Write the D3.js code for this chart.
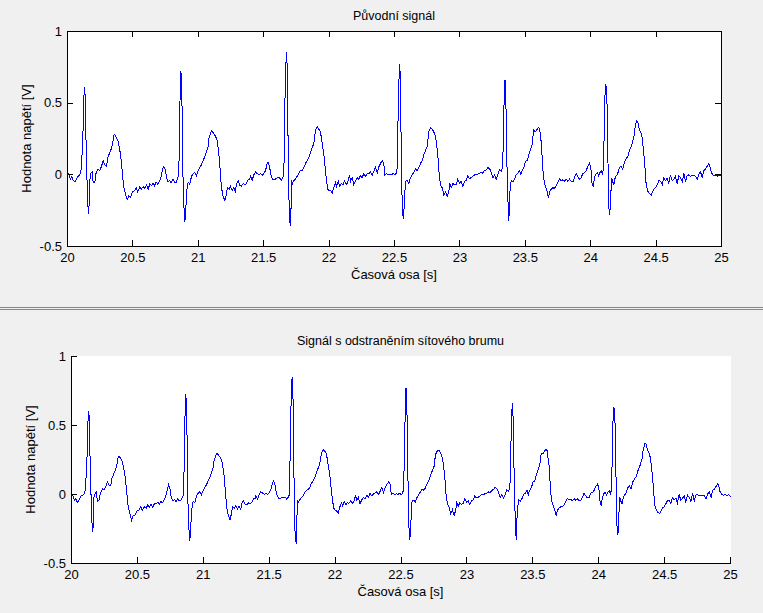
<!DOCTYPE html>
<html>
<head>
<meta charset="utf-8">
<script src="https://cdn.jsdelivr.net/npm/d3@7"></script>
<style>
  body { margin: 0; background: #f0f0f0; }
  svg { display: block; }
  text { font-family: "Liberation Sans", Arial, sans-serif; fill: #000; }
</style>
</head>
<body>
<svg id="chart" width="763" height="613"></svg>
<script>
// tick values and labels
const xTicks = [20, 20.5, 21, 21.5, 22, 22.5, 23, 23.5, 24, 24.5, 25];
const xTickLabels = ['20', '20.5', '21', '21.5', '22', '22.5', '23', '23.5', '24', '24.5', '25'];
const yTicks = [-0.5, 0, 0.5, 1];
const yTickLabels = ['-0.5', '0', '0.5', '1'];
const titles = ['Původní signál', 'Signál s odstraněním sítového brumu'];
const xLabel = 'Časová osa [s]';
const yLabel = 'Hodnota napětí [V]';

// [time s, voltage V]
const originalSignal = [
  [20.000,0.02],[20.011,0.00],[20.023,-0.03],[20.033,-0.01],[20.044,-0.04],[20.056,-0.05],[20.074,-0.02],[20.092,0.00],
  [20.102,0.02],[20.109,0.10],[20.117,0.24],[20.121,0.40],[20.126,0.55],[20.130,0.61],[20.135,0.55],[20.140,0.30],
  [20.148,0.00],[20.155,-0.20],[20.161,-0.27],[20.166,-0.20],[20.170,-0.04],[20.181,0.016],[20.189,0.02],[20.196,-0.05],
  [20.209,-0.05],[20.219,0.016],[20.235,0.04],[20.247,0.03],[20.260,0.06],[20.273,0.10],[20.283,0.07],[20.298,0.06],
  [20.308,0.12],[20.321,0.15],[20.334,0.18],[20.344,0.21],[20.352,0.26],[20.357,0.285],[20.367,0.27],[20.380,0.25],
  [20.385,0.24],[20.405,0.146],[20.418,0.028],[20.430,-0.088],[20.443,-0.13],[20.456,-0.175],[20.469,-0.145],[20.482,-0.155],
  [20.497,-0.12],[20.512,-0.11],[20.525,-0.09],[20.537,-0.12],[20.553,-0.085],[20.566,-0.10],[20.579,-0.08],[20.591,-0.095],
  [20.604,-0.07],[20.617,-0.10],[20.629,-0.065],[20.642,-0.075],[20.655,-0.06],[20.665,-0.075],[20.678,-0.05],[20.690,-0.065],
  [20.703,-0.045],[20.716,-0.01],[20.726,0.035],[20.736,0.058],[20.747,0.04],[20.757,-0.02],[20.770,-0.05],[20.782,-0.04],
  [20.793,-0.055],[20.805,-0.03],[20.818,-0.05],[20.831,-0.05],[20.843,-0.02],[20.851,0.00],
  [20.855,0.24],[20.859,0.45],[20.862,0.61],[20.866,0.727],[20.872,0.67],[20.877,0.40],[20.881,0.10],[20.885,-0.12],
  [20.892,-0.26],[20.897,-0.33],[20.904,-0.26],[20.910,-0.12],[20.923,-0.05],[20.935,-0.065],[20.948,-0.01],[20.961,0.01],
  [20.973,0.015],[20.986,-0.005],[20.999,0.03],[21.011,0.05],[21.024,0.07],[21.037,0.10],[21.050,0.128],[21.063,0.16],
  [21.076,0.20],[21.080,0.25],[21.093,0.29],[21.103,0.307],[21.116,0.29],[21.131,0.27],[21.144,0.24],[21.157,0.147],
  [21.170,0.00],[21.177,-0.09],[21.190,-0.15],[21.203,-0.18],[21.213,-0.14],[21.223,-0.09],[21.236,-0.10],[21.246,-0.08],
  [21.259,-0.11],[21.271,-0.09],[21.284,-0.115],[21.292,-0.065],[21.305,-0.04],[21.317,-0.075],[21.330,-0.08],[21.343,-0.06],
  [21.356,-0.07],[21.369,-0.06],[21.382,-0.03],[21.394,-0.03],[21.399,-0.01],[21.412,-0.04],[21.424,0.00],[21.437,0.02],
  [21.450,0.01],[21.463,0.00],[21.476,0.01],[21.489,-0.005],[21.501,0.01],[21.514,0.03],[21.527,0.08],[21.534,0.087],
  [21.544,0.06],[21.557,-0.01],[21.570,-0.03],[21.583,-0.035],[21.603,-0.02],[21.621,-0.02],[21.634,-0.04],[21.644,-0.02],
  [21.654,0.00],
  [21.659,0.30],[21.664,0.60],[21.671,0.80],[21.674,0.86],[21.680,0.75],[21.684,0.40],[21.690,0.00],[21.695,-0.25],
  [21.700,-0.33],[21.705,-0.36],[21.710,-0.20],[21.713,-0.04],[21.720,-0.06],[21.730,-0.04],[21.743,-0.03],[21.756,-0.01],
  [21.768,0.01],[21.781,0.03],[21.794,0.03],[21.807,0.05],[21.820,0.08],[21.833,0.10],[21.845,0.12],[21.858,0.16],
  [21.871,0.19],[21.883,0.22],[21.896,0.31],[21.909,0.335],[21.921,0.32],[21.934,0.30],[21.947,0.22],[21.960,0.14],
  [21.972,0.03],[21.980,-0.04],[21.990,-0.10],[22.001,-0.11],[22.011,-0.11],[22.024,-0.125],[22.036,-0.09],[22.049,-0.055],
  [22.057,-0.08],[22.070,-0.045],[22.082,-0.08],[22.093,-0.06],[22.105,-0.07],[22.118,-0.045],[22.131,-0.07],[22.143,-0.05],
  [22.156,0.00],[22.164,-0.045],[22.177,-0.02],[22.189,-0.07],[22.202,-0.04],[22.215,-0.02],[22.227,-0.03],[22.240,-0.005],
  [22.253,-0.02],[22.265,0.01],[22.278,-0.01],[22.291,0.005],[22.304,0.01],[22.317,0.02],[22.330,0.00],[22.342,0.025],
  [22.355,0.055],[22.368,0.015],[22.380,0.055],[22.393,0.08],[22.406,0.10],[22.418,0.08],[22.426,0.00],[22.439,0.01],
  [22.452,0.00],[22.464,0.005],[22.477,0.00],[22.490,0.01],[22.502,0.00],[22.513,0.01],[22.521,0.05],
  [22.525,0.30],[22.531,0.55],[22.536,0.72],[22.538,0.776],[22.544,0.70],[22.548,0.40],[22.554,0.05],[22.559,-0.22],
  [22.567,-0.31],[22.574,-0.22],[22.584,-0.045],[22.597,-0.04],[22.609,-0.06],[22.622,-0.02],[22.635,0.00],[22.648,0.02],
  [22.661,0.04],[22.674,0.03],[22.686,0.05],[22.699,0.08],[22.712,0.10],[22.724,0.14],[22.737,0.17],[22.750,0.20],
  [22.762,0.30],[22.775,0.33],[22.788,0.32],[22.800,0.30],[22.813,0.27],[22.821,0.22],[22.831,0.14],[22.842,0.00],
  [22.852,-0.07],[22.865,-0.09],[22.877,-0.14],[22.890,-0.12],[22.903,-0.15],[22.915,-0.12],[22.923,-0.06],[22.934,-0.09],
  [22.946,-0.06],[22.959,-0.07],[22.972,-0.07],[22.984,-0.03],[22.997,-0.06],[23.010,-0.045],[23.022,-0.08],[23.035,-0.045],
  [23.048,-0.04],[23.060,-0.01],[23.073,-0.025],[23.086,-0.02],[23.099,-0.01],[23.112,0.00],[23.125,0.00],[23.137,0.005],
  [23.150,0.01],[23.163,0.02],[23.175,0.01],[23.188,0.03],[23.201,0.035],[23.213,0.05],[23.226,0.045],[23.239,0.02],
  [23.252,-0.02],[23.265,0.00],[23.278,-0.03],[23.290,0.00],[23.303,0.035],[23.316,0.025],[23.326,0.05],
  [23.331,0.20],[23.336,0.45],[23.341,0.60],[23.345,0.66],[23.349,0.60],[23.354,0.40],[23.359,0.10],[23.366,-0.15],
  [23.374,-0.32],[23.382,-0.125],[23.392,-0.04],[23.405,-0.05],[23.418,-0.03],[23.430,0.00],[23.443,0.01],[23.456,0.03],
  [23.466,0.00],[23.476,0.03],[23.489,0.05],[23.502,0.095],[23.515,0.10],[23.527,0.14],[23.540,0.18],[23.553,0.21],
  [23.557,0.26],[23.565,0.31],[23.576,0.30],[23.586,0.31],[23.599,0.33],[23.611,0.32],[23.616,0.26],[23.622,0.23],
  [23.629,0.12],[23.637,0.00],[23.647,-0.06],[23.657,-0.09],[23.667,-0.115],[23.677,-0.16],[23.687,-0.115],[23.698,-0.10],
  [23.710,-0.09],[23.723,-0.095],[23.736,-0.075],[23.749,-0.05],[23.762,-0.03],[23.774,-0.04],[23.787,-0.035],[23.800,-0.045],
  [23.813,-0.03],[23.825,-0.045],[23.838,-0.03],[23.851,-0.045],[23.863,-0.05],[23.876,-0.02],[23.889,0.01],[23.901,-0.01],
  [23.914,-0.03],[23.927,-0.02],[23.940,0.01],[23.953,0.015],[23.966,0.03],[23.978,0.06],[23.991,0.08],[24.001,0.05],
  [24.011,-0.07],[24.019,-0.08],[24.029,-0.02],[24.039,0.005],[24.050,0.015],[24.060,-0.005],[24.070,0.015],[24.080,0.03],
  [24.090,0.00],[24.098,0.05],
  [24.103,0.30],[24.109,0.55],[24.115,0.635],[24.121,0.60],[24.126,0.46],[24.131,0.15],[24.138,-0.22],[24.146,-0.28],
  [24.154,-0.13],[24.161,-0.02],[24.169,-0.05],[24.177,-0.07],[24.187,-0.02],[24.197,-0.005],[24.207,0.01],[24.220,0.05],
  [24.233,0.06],[24.245,0.04],[24.258,0.09],[24.271,0.11],[24.284,0.13],[24.297,0.17],[24.310,0.20],[24.320,0.23],
  [24.330,0.26],[24.337,0.32],[24.350,0.377],[24.360,0.37],[24.371,0.32],[24.381,0.30],[24.391,0.27],[24.396,0.24],
  [24.406,0.15],[24.417,0.03],[24.424,-0.07],[24.437,-0.115],[24.450,-0.13],[24.463,-0.14],[24.473,-0.12],[24.482,-0.10],
  [24.495,-0.09],[24.508,-0.07],[24.521,-0.04],[24.534,-0.045],[24.547,-0.07],[24.559,-0.02],[24.572,-0.04],[24.585,-0.025],
  [24.597,-0.06],[24.610,0.00],[24.623,-0.04],[24.635,-0.03],[24.648,-0.01],[24.661,-0.06],[24.674,-0.005],[24.687,-0.02],
  [24.700,-0.05],[24.712,0.01],[24.725,-0.05],[24.738,-0.005],[24.750,0.00],[24.763,-0.01],[24.776,-0.005],[24.788,-0.005],
  [24.801,-0.01],[24.814,-0.03],[24.827,0.005],[24.840,0.02],[24.853,-0.02],[24.865,0.03],[24.878,0.04],[24.891,0.06],
  [24.903,0.08],[24.911,0.06],[24.921,0.02],[24.934,0.00],[24.947,-0.005],[24.960,0.00],[24.972,-0.01],[24.985,0.00],
  [25.000,-0.01]
];

const filteredSignal = [
  [20.000,0.01],[20.011,-0.01],[20.023,-0.04],[20.033,-0.03],[20.044,-0.06],[20.056,-0.04],[20.074,-0.01],[20.092,0.00],
  [20.102,0.02],[20.109,0.10],[20.117,0.24],[20.121,0.40],[20.126,0.55],[20.130,0.606],[20.135,0.55],[20.140,0.30],
  [20.148,0.00],[20.155,-0.20],[20.161,-0.275],[20.166,-0.20],[20.170,-0.02],[20.181,0.01],[20.189,0.02],[20.196,-0.05],
  [20.209,-0.04],[20.219,0.01],[20.235,0.04],[20.247,0.035],[20.260,0.06],[20.273,0.09],[20.283,0.07],[20.298,0.065],
  [20.308,0.12],[20.321,0.15],[20.334,0.18],[20.344,0.21],[20.352,0.26],[20.357,0.277],[20.367,0.27],[20.380,0.25],
  [20.385,0.24],[20.405,0.146],[20.418,0.028],[20.430,-0.09],[20.443,-0.14],[20.456,-0.185],[20.469,-0.15],[20.482,-0.15],
  [20.497,-0.12],[20.512,-0.115],[20.525,-0.09],[20.537,-0.115],[20.553,-0.09],[20.566,-0.10],[20.579,-0.075],[20.591,-0.095],
  [20.604,-0.07],[20.617,-0.095],[20.629,-0.065],[20.642,-0.07],[20.655,-0.055],[20.665,-0.07],[20.678,-0.05],[20.690,-0.06],
  [20.703,-0.04],[20.716,-0.01],[20.726,0.03],[20.736,0.07],[20.747,0.04],[20.757,-0.02],[20.770,-0.045],[20.782,-0.035],
  [20.793,-0.05],[20.805,-0.03],[20.818,-0.045],[20.831,-0.04],[20.843,-0.02],[20.851,0.00],
  [20.855,0.24],[20.859,0.45],[20.862,0.61],[20.866,0.73],[20.872,0.67],[20.877,0.40],[20.881,0.10],[20.885,-0.12],
  [20.892,-0.27],[20.897,-0.34],[20.904,-0.27],[20.910,-0.12],[20.923,-0.05],[20.935,-0.06],[20.948,-0.01],[20.961,0.01],
  [20.973,0.02],[20.986,0.00],[20.999,0.03],[21.011,0.05],[21.024,0.07],[21.037,0.10],[21.050,0.125],[21.063,0.16],
  [21.076,0.20],[21.080,0.24],[21.093,0.28],[21.103,0.297],[21.116,0.285],[21.131,0.265],[21.144,0.23],[21.157,0.14],
  [21.170,0.00],[21.177,-0.09],[21.190,-0.15],[21.203,-0.185],[21.213,-0.14],[21.223,-0.09],[21.236,-0.10],[21.246,-0.08],
  [21.259,-0.105],[21.271,-0.085],[21.284,-0.11],[21.292,-0.065],[21.305,-0.045],[21.317,-0.07],[21.330,-0.075],[21.343,-0.06],
  [21.356,-0.065],[21.369,-0.055],[21.382,-0.03],[21.394,-0.03],[21.399,-0.01],[21.412,-0.035],[21.424,0.00],[21.437,0.02],
  [21.450,0.01],[21.463,0.00],[21.476,0.01],[21.489,0.00],[21.501,0.015],[21.514,0.04],[21.527,0.09],[21.534,0.10],
  [21.544,0.07],[21.557,0.00],[21.570,-0.025],[21.583,-0.03],[21.603,-0.02],[21.621,-0.02],[21.634,-0.035],[21.644,-0.02],
  [21.654,0.00],
  [21.659,0.30],[21.664,0.60],[21.671,0.80],[21.674,0.854],[21.680,0.75],[21.684,0.40],[21.690,0.00],[21.695,-0.25],
  [21.700,-0.33],[21.705,-0.355],[21.710,-0.20],[21.713,-0.04],[21.720,-0.055],[21.730,-0.04],[21.743,-0.025],[21.756,-0.01],
  [21.768,0.01],[21.781,0.03],[21.794,0.035],[21.807,0.05],[21.820,0.08],[21.833,0.10],[21.845,0.12],[21.858,0.16],
  [21.871,0.19],[21.883,0.22],[21.896,0.30],[21.909,0.326],[21.921,0.315],[21.934,0.295],[21.947,0.22],[21.960,0.14],
  [21.972,0.03],[21.980,-0.04],[21.990,-0.10],[22.001,-0.115],[22.011,-0.12],[22.024,-0.136],[22.036,-0.09],[22.049,-0.06],
  [22.057,-0.08],[22.070,-0.05],[22.082,-0.075],[22.093,-0.06],[22.105,-0.065],[22.118,-0.045],[22.131,-0.065],[22.143,-0.05],
  [22.156,-0.005],[22.164,-0.04],[22.177,-0.02],[22.189,-0.065],[22.202,-0.04],[22.215,-0.02],[22.227,-0.03],[22.240,-0.005],
  [22.253,-0.02],[22.265,0.01],[22.278,-0.01],[22.291,0.005],[22.304,0.01],[22.317,0.02],[22.330,0.00],[22.342,0.025],
  [22.355,0.05],[22.368,0.015],[22.380,0.05],[22.393,0.075],[22.406,0.09],[22.418,0.075],[22.426,0.00],[22.439,0.01],
  [22.452,0.00],[22.464,0.005],[22.477,0.00],[22.490,0.01],[22.502,0.00],[22.513,0.01],[22.521,0.05],
  [22.525,0.30],[22.531,0.55],[22.536,0.72],[22.538,0.77],[22.544,0.70],[22.548,0.40],[22.554,0.05],[22.559,-0.22],
  [22.567,-0.33],[22.574,-0.22],[22.584,-0.045],[22.597,-0.04],[22.609,-0.055],[22.622,-0.02],[22.635,0.00],[22.648,0.02],
  [22.661,0.04],[22.674,0.03],[22.686,0.05],[22.699,0.08],[22.712,0.10],[22.724,0.14],[22.737,0.17],[22.750,0.20],
  [22.762,0.29],[22.775,0.315],[22.788,0.319],[22.800,0.30],[22.813,0.27],[22.821,0.22],[22.831,0.14],[22.842,0.00],
  [22.852,-0.07],[22.865,-0.09],[22.877,-0.14],[22.890,-0.11],[22.903,-0.15],[22.915,-0.115],[22.923,-0.06],[22.934,-0.085],
  [22.946,-0.06],[22.959,-0.07],[22.972,-0.065],[22.984,-0.03],[22.997,-0.055],[23.010,-0.045],[23.022,-0.075],[23.035,-0.045],
  [23.048,-0.04],[23.060,-0.01],[23.073,-0.025],[23.086,-0.02],[23.099,-0.01],[23.112,0.00],[23.125,0.00],[23.137,0.005],
  [23.150,0.01],[23.163,0.02],[23.175,0.01],[23.188,0.03],[23.201,0.035],[23.213,0.05],[23.226,0.045],[23.239,0.02],
  [23.252,-0.02],[23.265,0.00],[23.278,-0.025],[23.290,0.00],[23.303,0.035],[23.316,0.025],[23.326,0.05],
  [23.331,0.20],[23.336,0.45],[23.341,0.60],[23.345,0.664],[23.349,0.60],[23.354,0.40],[23.359,0.10],[23.366,-0.15],
  [23.374,-0.33],[23.382,-0.125],[23.392,-0.04],[23.405,-0.05],[23.418,-0.03],[23.430,0.00],[23.443,0.01],[23.456,0.03],
  [23.466,0.00],[23.476,0.03],[23.489,0.05],[23.502,0.09],[23.515,0.10],[23.527,0.14],[23.540,0.18],[23.553,0.21],
  [23.557,0.25],[23.565,0.30],[23.576,0.295],[23.586,0.31],[23.599,0.326],[23.611,0.315],[23.616,0.26],[23.622,0.23],
  [23.629,0.12],[23.637,0.00],[23.647,-0.06],[23.657,-0.09],[23.667,-0.115],[23.677,-0.155],[23.687,-0.115],[23.698,-0.10],
  [23.710,-0.09],[23.723,-0.09],[23.736,-0.075],[23.749,-0.05],[23.762,-0.03],[23.774,-0.04],[23.787,-0.035],[23.800,-0.045],
  [23.813,-0.03],[23.825,-0.04],[23.838,-0.03],[23.851,-0.045],[23.863,-0.045],[23.876,-0.02],[23.889,0.01],[23.901,-0.01],
  [23.914,-0.025],[23.927,-0.02],[23.940,0.01],[23.953,0.015],[23.966,0.03],[23.978,0.06],[23.991,0.075],[24.001,0.05],
  [24.011,-0.06],[24.019,-0.075],[24.029,-0.02],[24.039,0.005],[24.050,0.015],[24.060,-0.005],[24.070,0.015],[24.080,0.03],
  [24.090,0.00],[24.098,0.05],
  [24.103,0.30],[24.109,0.55],[24.115,0.635],[24.121,0.60],[24.126,0.46],[24.131,0.15],[24.138,-0.22],[24.146,-0.29],
  [24.154,-0.13],[24.161,-0.02],[24.169,-0.05],[24.177,-0.065],[24.187,-0.02],[24.197,-0.005],[24.207,0.01],[24.220,0.05],
  [24.233,0.06],[24.245,0.04],[24.258,0.09],[24.271,0.11],[24.284,0.13],[24.297,0.17],[24.310,0.20],[24.320,0.23],
  [24.330,0.26],[24.337,0.32],[24.350,0.37],[24.360,0.365],[24.371,0.32],[24.381,0.30],[24.391,0.27],[24.396,0.24],
  [24.406,0.15],[24.417,0.03],[24.424,-0.07],[24.437,-0.115],[24.450,-0.13],[24.463,-0.14],[24.473,-0.12],[24.482,-0.10],
  [24.495,-0.09],[24.508,-0.07],[24.521,-0.045],[24.534,-0.045],[24.547,-0.065],[24.559,-0.02],[24.572,-0.04],[24.585,-0.025],
  [24.597,-0.06],[24.610,0.00],[24.623,-0.04],[24.635,-0.03],[24.648,-0.01],[24.661,-0.055],[24.674,-0.005],[24.687,-0.02],
  [24.700,-0.05],[24.712,0.01],[24.725,-0.045],[24.738,-0.005],[24.750,0.00],[24.763,-0.01],[24.776,-0.005],[24.788,-0.005],
  [24.801,-0.01],[24.814,-0.03],[24.827,0.005],[24.840,0.02],[24.853,-0.02],[24.865,0.03],[24.878,0.04],[24.891,0.06],
  [24.903,0.08],[24.911,0.06],[24.921,0.02],[24.934,0.00],[24.947,-0.005],[24.960,0.00],[24.972,-0.01],[24.985,0.00],
  [25.000,-0.015]
];

const svg = d3.select('#chart');

svg.append('rect').attr('width', 763).attr('height', 613).attr('fill', '#f0f0f0');

// the two panel separator lines
svg.append('line').attr('x1', 0).attr('x2', 763).attr('y1', 307.5).attr('y2', 307.5).attr('stroke', '#888');
svg.append('line').attr('x1', 0).attr('x2', 763).attr('y1', 309.5).attr('y2', 309.5).attr('stroke', '#888');

function drawPanel(p) {
  const g = svg.append('g');

  const x = d3.scaleLinear().domain([20, 25]).range([p.left, p.right]);
  const y = d3.scaleLinear().domain([-0.5, 1]).range([p.bottom, p.top]);

  g.append('rect')
    .attr('x', p.left).attr('y', p.top)
    .attr('width', p.right - p.left + 1).attr('height', p.bottom - p.top + 1)
    .attr('fill', '#fff');

  const line = d3.line().x(d => x(d[0]) + 0.5).y(d => y(d[1]) + 0.5);
  g.append('path')
    .datum(p.data)
    .attr('d', line)
    .attr('fill', 'none')
    .attr('stroke', '#0000ff')
    .attr('stroke-width', 1)
    .attr('shape-rendering', 'crispEdges');

  const xAxis = d3.axisBottom(x).tickValues(xTicks).tickFormat((d, i) => xTickLabels[i])
    .tickSize(-6).tickSizeOuter(0).tickPadding(7);
  const yAxis = d3.axisLeft(y).tickValues(yTicks).tickFormat((d, i) => yTickLabels[i])
    .tickSize(-6).tickSizeOuter(0).tickPadding(5);

  g.append('g').attr('transform', `translate(0,${p.bottom})`).call(xAxis)
    .attr('font-size', 13);
  g.append('g').attr('transform', `translate(${p.left},0)`).call(yAxis)
    .attr('font-size', 13);

  if (p.box) {
    g.append('g').attr('transform', `translate(0,${p.top})`)
      .call(d3.axisTop(x).tickValues(xTicks).tickFormat('').tickSize(-6).tickSizeOuter(0));
    g.append('g').attr('transform', `translate(${p.right},0)`)
      .call(d3.axisRight(y).tickValues(yTicks).tickFormat('').tickSize(-6).tickSizeOuter(0));
  }
  g.selectAll('.domain, .tick line').attr('shape-rendering', 'crispEdges');

  const cx = (p.left + p.right) / 2;
  g.append('text').attr('x', cx).attr('y', p.top - 11)
    .attr('text-anchor', 'middle').attr('font-size', 12.5).text(p.title);
  g.append('text').attr('x', cx).attr('y', p.bottom + 33)
    .attr('text-anchor', 'middle').attr('font-size', 13).text(xLabel);
  g.append('text')
    .attr('transform', `translate(${p.left - 36.5},${(p.top + p.bottom) / 2}) rotate(-90)`)
    .attr('text-anchor', 'middle').attr('font-size', 13).text(yLabel);
}

drawPanel({ left: 67, right: 721, top: 31, bottom: 246, box: true, title: titles[0], data: originalSignal });
drawPanel({ left: 71, right: 730, top: 356, bottom: 563, box: false, title: titles[1], data: filteredSignal });
</script>
</body>
</html>
